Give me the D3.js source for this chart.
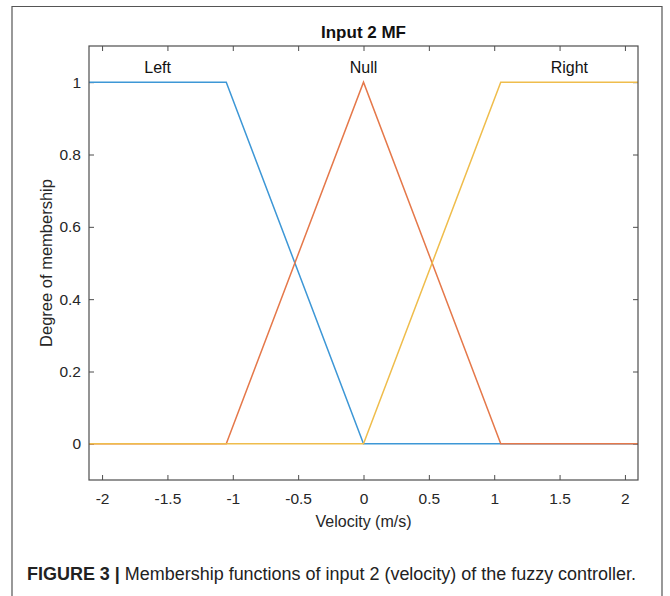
<!DOCTYPE html>
<html>
<head>
<meta charset="utf-8">
<script src="https://cdn.jsdelivr.net/npm/d3@7"></script>
<style>
  body { margin: 0; background: #fff; }
  svg { display: block; font-family: "Liberation Sans", Arial, sans-serif; }
</style>
</head>
<body>
<svg id="chart" width="670" height="596"></svg>
<script>
// Membership functions of input 2 (velocity): breakpoints and degrees
const xDomain = [-2.1, 2.1];
const yDomain = [-0.1, 1.1];
const mfNames = ["Left", "Null", "Right"];
const mfX = [
  [-2.1, -1.05, 0, 2.1],
  [-2.1, -1.05, 0, 1.05, 2.1],
  [-2.1, 0, 1.05, 2.1]
];
const mfY = [
  [1, 1, 0, 0],
  [0, 0, 1, 0, 0],
  [0, 0, 1, 1]
];
const labelX = [-1.575, 0, 1.575];
const xTicks = [-2, -1.5, -1, -0.5, 0, 0.5, 1, 1.5, 2];
const yTicks = [0, 0.2, 0.4, 0.6, 0.8, 1];
const colors = ["#3d97d6", "#e5784a", "#efbd4c"];

const svg = d3.select("#chart");
const m = { left: 89, top: 46, right: 638, bottom: 480 };

// outer figure frame (open at the bottom)
svg.append("path")
  .attr("d", "M12,600 V6.5 H662 V600")
  .attr("fill", "none").attr("stroke", "#555").attr("stroke-width", 1.2);

const x = d3.scaleLinear().domain(xDomain).range([m.left, m.right]);
const y = d3.scaleLinear().domain(yDomain).range([m.bottom, m.top]);

const axisColor = "#4d4d4d";
function styleAxis(g) {
  g.select(".domain").remove();
  g.selectAll(".tick line").attr("stroke", axisColor);
  g.selectAll(".tick text")
    .style("font-family", "'Liberation Sans', Arial, sans-serif")
    .style("font-size", "15.5px")
    .style("fill", "#262626");
}
const plain = d => String(d); // keep hyphen minus like the original

// bottom / top
svg.append("g").attr("transform", `translate(0,${m.bottom})`)
  .call(d3.axisBottom(x).tickValues(xTicks).tickSize(-5).tickPadding(13).tickFormat(plain))
  .call(styleAxis);
svg.append("g").attr("transform", `translate(0,${m.top})`)
  .call(d3.axisTop(x).tickValues(xTicks).tickSize(-5).tickFormat(""))
  .call(styleAxis);
// left / right
svg.append("g").attr("transform", `translate(${m.left},0)`)
  .call(d3.axisLeft(y).tickValues(yTicks).tickSize(-5).tickPadding(8).tickFormat(plain))
  .call(styleAxis);
svg.append("g").attr("transform", `translate(${m.right},0)`)
  .call(d3.axisRight(y).tickValues(yTicks).tickSize(-5).tickFormat(""))
  .call(styleAxis);

// lines
const line = d3.line().x(d => x(d[0])).y(d => y(d[1]));
mfNames.forEach((name, i) => {
  const pts = mfX[i].map((v, j) => [v, mfY[i][j]]);
  svg.append("path")
    .datum(pts)
    .attr("d", line)
    .attr("fill", "none")
    .attr("stroke", colors[i])
    .attr("stroke-width", 1.5);
  svg.append("text")
    .attr("x", x(labelX[i]))
    .attr("y", y(1) - 9)
    .attr("text-anchor", "middle")
    .attr("font-size", 16)
    .attr("fill", "#111")
    .text(name);
});

// plot box
svg.append("rect")
  .attr("x", m.left).attr("y", m.top)
  .attr("width", m.right - m.left).attr("height", m.bottom - m.top)
  .attr("fill", "none").attr("stroke", axisColor).attr("stroke-width", 1.2);

// title and axis labels
svg.append("text")
  .attr("x", (m.left + m.right) / 2).attr("y", 38)
  .attr("text-anchor", "middle").attr("font-size", 17).attr("font-weight", "bold")
  .attr("fill", "#111")
  .text("Input 2 MF");

svg.append("text")
  .attr("x", (m.left + m.right) / 2).attr("y", 527)
  .attr("text-anchor", "middle").attr("font-size", 16).attr("fill", "#262626")
  .text("Velocity (m/s)");

svg.append("text")
  .attr("transform", `translate(52,${(m.top + m.bottom) / 2}) rotate(-90)`)
  .attr("text-anchor", "middle").attr("font-size", 16.5).attr("fill", "#262626")
  .text("Degree of membership");

// caption
const cap = svg.append("text")
  .attr("x", 27).attr("y", 580)
  .attr("font-size", 17.5).attr("fill", "#222")
  .attr("textLength", 609).attr("lengthAdjust", "spacingAndGlyphs");
cap.append("tspan").attr("font-weight", "bold").text("FIGURE 3 | ");
cap.append("tspan").text("Membership functions of input 2 (velocity) of the fuzzy controller.");
</script>
</body>
</html>
